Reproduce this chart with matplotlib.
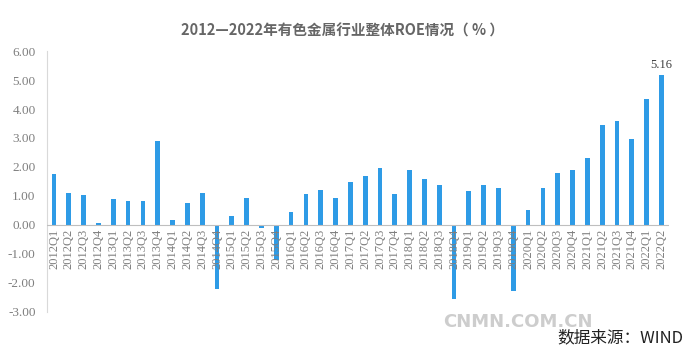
import numpy as np
import matplotlib.pyplot as plt

# quarterly ROE of the non-ferrous metals industry (%)
quarters = [f'{y}Q{q}' for y in range(2012, 2023) for q in range(1, 5)][:42]
roe = [1.76, 1.11, 1.03, 0.07, 0.89, 0.82, 0.84, 2.90, 0.16, 0.75, 1.11, -2.20,
       0.32, 0.94, -0.11, -1.22, 0.45, 1.07, 1.22, 0.94, 1.49, 1.70, 1.98, 1.08,
       1.89, 1.60, 1.38, -2.56, 1.16, 1.38, 1.29, -2.30, 0.51, 1.27, 1.79, 1.91,
       2.32, 3.45, 3.58, 2.96, 4.34, 5.16]
yticks = [6, 5, 4, 3, 2, 1, 0, -1, -2, -3]

title = '2012—2022年有色金属行业整体ROE情况（ % ）'
source = '数据来源：WIND'

cjk = ['Noto Sans CJK SC', 'DejaVu Sans']
serif = 'Liberation Serif'
bar_col = '#2e9be6'
txt_col = '#7f7f7f'

fig = plt.figure(figsize=(6.89, 3.6), dpi=100)
ax = fig.add_axes([0.0677, 0.134, 0.903, 0.724])

x = np.arange(len(quarters))
ax.bar(x, roe, width=0.32, color=bar_col, zorder=2)

ax.set_xlim(-0.5, len(quarters) - 0.5)
ax.set_ylim(-3, 6)
ax.set_yticks(yticks)
ax.set_yticklabels([f'{v:.2f}' for v in yticks], fontfamily=serif, fontsize=9.5, color=txt_col)
ax.tick_params(axis='y', length=0, pad=8)
ax.set_xticks([])

for s in ['top', 'right', 'bottom']:
    ax.spines[s].set_visible(False)
ax.spines['left'].set_color('#d9d9d9')
ax.spines['left'].set_linewidth(0.8)
ax.axhline(0, color='#bfbfbf', lw=0.8, zorder=3)

# category labels hang just below the zero line
for xi, lab in zip(x, quarters):
    ax.text(xi, -0.13, lab, rotation=90, ha='center', va='top', fontfamily=serif,
            fontsize=9, color=txt_col, zorder=4)

ax.text(x[-1], roe[-1] + 0.15, f'{roe[-1]:.2f}', ha='center', va='bottom',
        fontfamily=serif, fontsize=9, color='#404040')

fig.text(0.497, 0.915, title, ha='center', va='center', fontfamily=cjk,
         fontsize=10.5, fontweight='bold', color='#666666')
fig.text(0.752, 0.105, 'CNMN.COM.CN', ha='center', va='center', fontfamily='DejaVu Sans',
         fontsize=13, fontweight='bold', color='#c8c8c8', alpha=0.9)
fig.text(0.992, 0.062, source, ha='right', va='center', fontfamily=cjk,
         fontsize=12, color='#222222')

fig.savefig('out.png', dpi=100)
